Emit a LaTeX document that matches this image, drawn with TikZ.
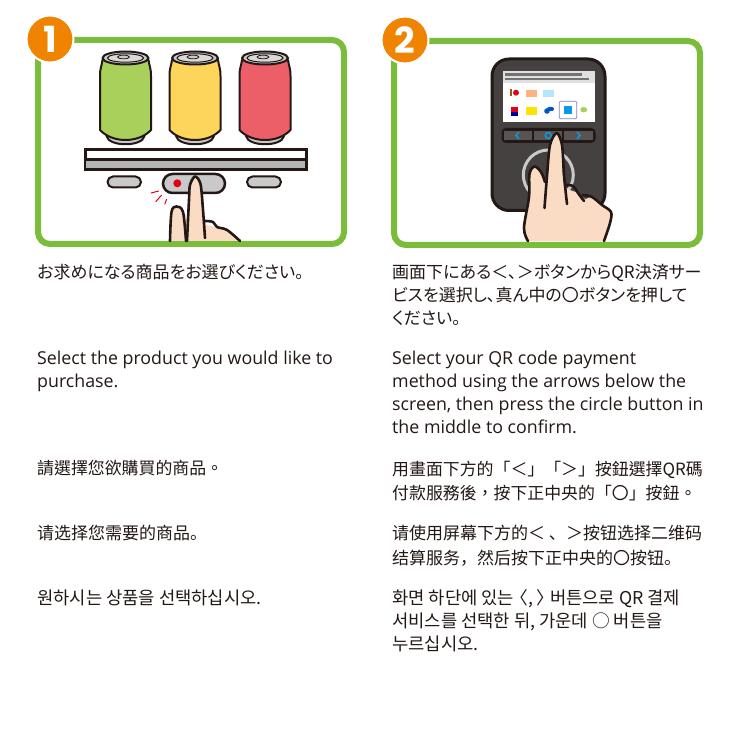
\documentclass[tikz,border=0pt]{standalone}
\usepackage{fontspec}
\setmainfont{Open Sans}
\newfontfamily\jpfont[RawFeature=+palt]{Noto Sans CJK JP}
\newfontfamily\tcfont{Noto Sans CJK TC}
\newfontfamily\scfont{Noto Sans CJK SC}
\newfontfamily\krfont{Noto Sans CJK KR}
\newfontfamily\badgefont{Poppins}
\definecolor{framegreen}{HTML}{7BBD3A}
\definecolor{badgeorange}{HTML}{F08300}
\definecolor{inkdark}{HTML}{231815}
\definecolor{devicegray}{HTML}{454141}
\definecolor{skin}{HTML}{FADCC4}
\definecolor{lidgray}{HTML}{C9C9C9}
\definecolor{shelfgray}{HTML}{B4B4B4}
\definecolor{keyblue}{HTML}{0E9BD8}
\definecolor{cangreen}{HTML}{A8D05A}
\definecolor{canyellow}{HTML}{FDD55A}
\definecolor{canred}{HTML}{EC5F69}
\definecolor{dotred}{HTML}{E60012}
\tikzset
{
    panel/.style    = {draw=framegreen, line width=6pt, rounded corners=12pt, fill=white},
    badge/.style    = {circle, draw=white, line width=2pt, fill=badgeorange, text=white, minimum size=47pt, inner sep=0pt, font=\badgefont\bfseries\fontsize{36}{36}\selectfont},
    ink/.style      = {draw=inkdark, line width=2pt, line join=round},
    handline/.style = {draw=inkdark, line width=2.6pt, line cap=round, line join=round},
    chevron/.style  = {draw=keyblue, line width=1.5pt},
    spark/.style    = {draw=dotred, line width=1pt},
    jptext/.style   = {anchor=north west, align=left, inner sep=0pt, text=inkdark, font=\jpfont\fontsize{17}{23}\selectfont},
    entext/.style   = {anchor=north west, align=left, inner sep=0pt, text=inkdark, font=\fontsize{17.8}{23}\selectfont},
    tctext/.style   = {anchor=north west, align=left, inner sep=0pt, text=inkdark, font=\tcfont\fontsize{16.9}{24.5}\selectfont},
    sctext/.style   = {anchor=north west, align=left, inner sep=0pt, text=inkdark, font=\scfont\fontsize{17}{24.5}\selectfont},
    krtext/.style   = {anchor=north west, align=left, inner sep=0pt, text=inkdark, font=\krfont\fontsize{17.7}{23}\selectfont}
}
\newcommand\DRAWCAN[2]{
  \begin{scope}[shift={(#1,0)}]
    \draw[ink, fill=lidgray] (-19,136) .. controls (-17,147) and (17,147) .. (19,136) -- cycle;
    \draw[ink, fill=#2] (-23,60) .. controls (-24,67) and (-25.5,68) .. (-25.5,76) -- (-25.5,130)
      .. controls (-19,137) and (-9,140) .. (0,140) .. controls (9,140) and (19,137) .. (25.5,130)
      -- (25.5,76) .. controls (25.5,68) and (24,67) .. (23,60) -- cycle;
    \draw[ink, fill=lidgray] (0,58) ellipse [x radius=23, y radius=6.5];
    \draw[draw=inkdark, line width=1pt, fill=lidgray!70] (0,58) ellipse [x radius=18, y radius=4.2];
    \draw[draw=inkdark, line width=.8pt, fill=lidgray] (-2,57) ellipse [x radius=6, y radius=1.8];
  \end{scope}
}
\begin{document}
\begin{tikzpicture}[x=1pt, y=-1pt]
  \newcommand\LEFTX{37}
  \newcommand\RIGHTX{392}
  \useasboundingbox (0,0) rectangle (739,730);
  \fill[white] (0,0) rectangle (739,730);

  \draw[panel] (38,40) rectangle (344,244);
  \draw[panel] (394,41) rectangle (700,245);
  \node (one) [badge] at (50,39) {1};
  \node (two) [badge] at (405,40) {2};

  % cans and shelf
  \DRAWCAN{125.5}{cangreen}
  \DRAWCAN{195}{canyellow}
  \DRAWCAN{265}{canred}
  \draw[draw=inkdark, line width=3pt, fill=white] (85,150) rectangle (306,169.5);
  \fill[shelfgray] (86,160) rectangle (305,168);
  \draw[draw=inkdark, line width=3pt] (85,159.5) -- (306,159.5);
  \draw[ink, fill=lidgray, rounded corners=5.5pt] (107.5,176.5) rectangle (141,187.5);
  \draw[ink, fill=lidgray, rounded corners=5.5pt] (247,176.5) rectangle (281,187.5);
  \draw[draw=inkdark, line width=2.5pt, fill=lidgray, rounded corners=9.5pt] (163,174) rectangle (225,193);
  \fill[dotred] (177.3,183.3) circle (4);
  \draw[spark] (151,193) -- (158.7,191);
  \draw[spark] (155.7,201.7) -- (161.7,195);
  \draw[spark] (164.7,204.3) -- (166.7,199);

  % first hand
  \fill[skin] plot[smooth, tension=.55] coordinates {(170,241) (171.5,212) (176.5,206.5) (185,214) (188,220) (190,185) (195,176.5) (200.5,184) (204,221) (216,227) (227,231) (240,241)} -- cycle;
  \draw[handline] plot[smooth, tension=.55] coordinates {(170,241) (171.5,212) (176.5,206.5) (183,212) (186,241)};
  \fill[skin] plot[smooth, tension=.5] coordinates {(187,241) (189,200) (190,185) (195,176.5) (200.5,184) (203,210) (205,238)} -- cycle;
  \draw[handline] plot[smooth, tension=.5] coordinates {(187,241) (189,200) (190,185) (195,176.5) (200.5,184) (203,210) (205,238)};
  \draw[handline] plot[smooth, tension=.6] coordinates {(205,221) (213,222) (217,227) (227,230) (240,241)};

  % device
  \draw[draw=inkdark, line width=3pt, fill=devicegray, rounded corners=17pt] (492,59) rectangle (605,210.5);
  \fill[white] (503.3,71) rectangle (594.7,122);
  \fill[black!12] (503.3,71) rectangle (594.7,82.7);
  \draw[draw=black!55, line width=2.5pt] (505,74.3) -- (581.7,74.3);
  \draw[draw=black!55, line width=1.8pt] (505,79) -- (589,79);
  \fill[brown!60!orange!70!black] (510,88.7) rectangle (512.3,95.7);
  \fill[dotred] (516,92.7) circle (3);
  \fill[orange!50!pink!80!white] (525.7,90) rectangle (537,97);
  \fill[cyan!30!white] (543,90) rectangle (554.3,97);
  \fill[dotred] (511.3,106.7) rectangle (517.5,112.3);
  \fill[blue!60!black] (511,112) rectangle (518,116);
  \fill[yellow!85!orange] (525.7,107.3) rectangle (537,114.7);
  \fill[blue!55!cyan!75!black, rounded corners=2pt] (547,107) rectangle (554,111);
  \fill[blue!55!cyan!75!black] (547,111) circle (2.8);
  \draw[draw=blue!40!gray!70, line width=.8pt, rounded corners=1pt] (559.3,101.3) rectangle (576.7,118.7);
  \fill[cyan!85!blue] (564,106) rectangle (572,114);
  \fill[cangreen] (583.7,109.7) ellipse [x radius=3.5, y radius=2.7];

  \draw[draw=inkdark, fill=inkdark, line width=1pt, rounded corners=4pt] (502,128.5) rectangle (595,142.5);
  \fill[devicegray!90!white] (504.3,131) rectangle (532.3,140.5);
  \fill[devicegray!90!white] (534,131) rectangle (562.3,140.5);
  \fill[devicegray!90!white] (564,131) rectangle (592.7,140.5);
  \draw[chevron] (519,132) -- (516,135.5) -- (519,139);
  \draw[chevron] (548.3,135.5) circle (3);
  \draw[chevron] (577,132) -- (580,135.5) -- (577,139);
  \draw[draw=lidgray, line width=3pt] (548.3,175) circle (25);

  % second hand
  \fill[skin] plot[smooth, tension=.55] coordinates {(528,241) (524,228) (529,197) (529.5,174) (534.5,166.5) (544,178) (547,176) (550,145) (556.7,133) (562,145) (564,184) (578,193) (585,199) (592,197) (602,205) (611,212) (610,223) (604,241)} -- cycle;
  \draw[handline] plot[smooth, tension=.55] coordinates {(528,241) (524,228) (529,197) (529.5,174) (534.5,166.5) (541,172) (545,182)};
  \draw[handline] plot[smooth, tension=.5] coordinates {(544.5,208) (547,176) (550,145) (556.7,133) (562,145) (564,175) (567,204)};
  \draw[handline] plot[smooth, tension=.55] coordinates {(565,185) (573,186) (578,193) (584,201)};
  \draw[handline] plot[smooth, tension=.55] coordinates {(583,195) (592,197) (602,205) (611,212) (610,223) (604,241)};

  % caption texts
  \node (jpa) [jptext] at (\LEFTX,264)  {お求めになる商品をお選びください。};
  \node (jpb) [jptext] at (\RIGHTX,264) {画面下にある＜､＞ボタンからQR決済サー\\ビスを選択し､真ん中の〇ボタンを押して\\ください。};
  \node (ena) [entext] at (\LEFTX,351)  {Select the product you would like to\\purchase.};
  \node (enb) [entext] at (\RIGHTX,351) {Select your QR code payment\\method using the arrows below the\\screen, then press the circle button in\\the middle to confirm.};
  \node (tca) [tctext] at (\LEFTX,460.5)  {請選擇您欲購買的商品。};
  \node (tcb) [tctext] at (\RIGHTX,460.5) {用畫面下方的「＜」「＞」按鈕選擇QR碼\\付款服務後，按下正中央的「〇」按鈕。};
  \node (sca) [sctext] at (\LEFTX,525)  {请选择您需要的商品。};
  \node (scb) [sctext] at (\RIGHTX,525) {请使用屏幕下方的＜ 、＞按钮选择二维码\\结算服务，然后按下正中央的〇按钮。};
  \node (kra) [krtext] at (\LEFTX,589.5)  {원하시는 상품을 선택하십시오.};
  \node (krb) [krtext] at (\RIGHTX,589.5) {화면 하단에 있는\kern-.2em〈,\kern.2em〉\kern-.25em 버튼으로 QR 결제\\서비스를 선택한 뒤, 가운데 ○ 버튼을\\누르십시오.};
\end{tikzpicture}
\end{document}
